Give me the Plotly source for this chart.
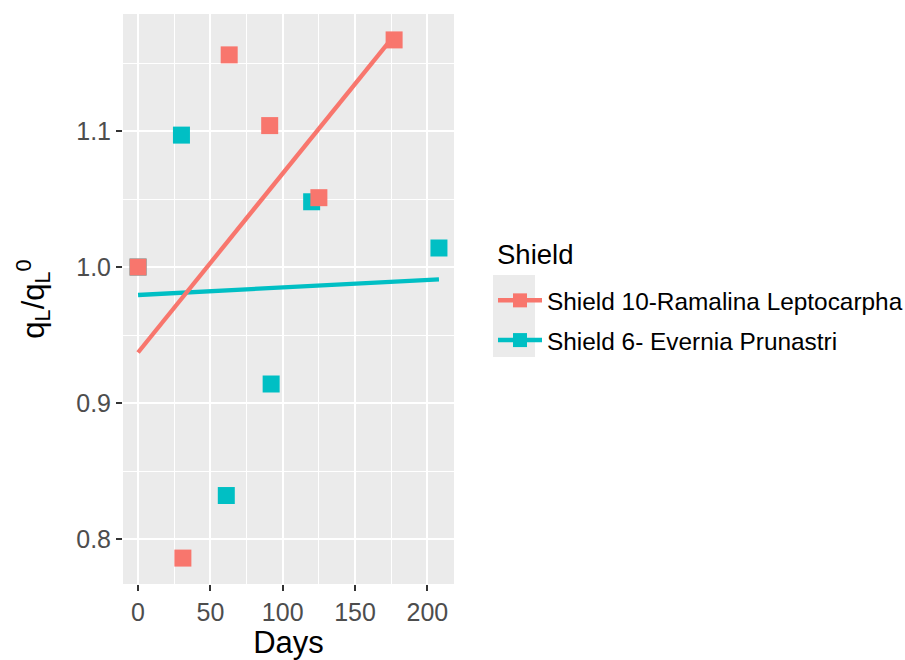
import numpy as np
import plotly.graph_objects as go

# Shield 10 - Ramalina Leptocarpha
red_name = "Shield 10-Ramalina Leptocarpha"
red_days = [0, 31, 63, 91, 125, 177]
red_q = [1.000, 0.786, 1.156, 1.104, 1.051, 1.167]

# Shield 6 - Evernia Prunastri
teal_name = "Shield 6- Evernia Prunastri"
teal_days = [0, 30, 61, 92, 120, 208]
teal_q = [1.000, 1.097, 0.832, 0.914, 1.048, 1.014]

x_ticks = [0, 50, 100, 150, 200]
y_ticks = [0.8, 0.9, 1.0, 1.1]

RED = "#F8766D"
TEAL = "#00BFC4"
FONT = "Liberation Sans, Arial, sans-serif"


def lm_line(x, y):
    """Least-squares straight line over the span of x."""
    slope, intercept = np.polyfit(x, y, 1)
    xs = np.array([min(x), max(x)], dtype=float)
    return xs, intercept + slope * xs


def padded(values, frac=0.05):
    lo, hi = min(values), max(values)
    pad = (hi - lo) * frac
    return [lo - pad, hi + pad]


fig = go.Figure()

# points
for days, q, col in [(teal_days, teal_q, TEAL), (red_days, red_q, RED)]:
    fig.add_trace(go.Scatter(
        x=days, y=q, mode="markers",
        marker=dict(symbol="square", size=17, color=col, line=dict(width=0)),
        showlegend=False, hoverinfo="x+y",
    ))

# linear fits
for days, q, col in [(teal_days, teal_q, TEAL), (red_days, red_q, RED)]:
    lx, ly = lm_line(days, q)
    fig.add_trace(go.Scatter(
        x=lx, y=ly, mode="lines",
        line=dict(color=col, width=4.3),
        showlegend=False, hoverinfo="skip",
    ))

# legend entries (line + square key)
for i, (name, col) in enumerate([(red_name, RED), (teal_name, TEAL)]):
    fig.add_trace(go.Scatter(
        x=[None], y=[None], mode="lines+markers", name=name,
        legendgroup=name, legendrank=i + 1,
        line=dict(color=col, width=4.5),
        marker=dict(symbol="square", size=14, color=col),
    ))

# grey background behind the legend keys
fig.add_shape(type="rect", xref="paper", yref="paper",
              x0=1.1178, x1=1.2447, y0=0.3982, y1=0.5421,
              fillcolor="#EBEBEB", line=dict(width=0), layer="above")

# legend title
fig.add_annotation(text="Shield", xref="paper", yref="paper",
                   x=1.1239, y=0.5772, xanchor="left", yanchor="middle",
                   showarrow=False,
                   font=dict(family=FONT, size=27.5, color="black"))

axis_common = dict(
    showgrid=True, gridcolor="white", gridwidth=2,
    zeroline=False, showline=False, automargin=False,
    ticks="outside", ticklen=6, tickwidth=1.5, tickcolor="#333333",
    tickfont=dict(family=FONT, size=25, color="#4D4D4D"),
)

all_days = red_days + teal_days
all_q = red_q + teal_q

fig.update_layout(
    width=905, height=660,
    margin=dict(l=123, r=451, t=14, b=76),
    paper_bgcolor="white", plot_bgcolor="#EBEBEB",
    font=dict(family=FONT, color="black"),
    xaxis=dict(
        range=padded(all_days), tickvals=x_ticks,
        ticktext=[str(v) for v in x_ticks],
        minor=dict(dtick=25, tick0=0, showgrid=True, gridcolor="white",
                   gridwidth=1, ticks=""),
        title=dict(text="Days", font=dict(family=FONT, size=31, color="black"),
                   standoff=7),
        **axis_common,
    ),
    yaxis=dict(
        range=padded(all_q), tickvals=y_ticks,
        ticktext=[f"{v:.1f}" for v in y_ticks],
        minor=dict(dtick=0.05, tick0=0.75, showgrid=True, gridcolor="white",
                   gridwidth=1, ticks=""),
        title=dict(text="q<sub>L</sub>/q<sub>L</sub><sup>0</sup>",
                   font=dict(family=FONT, size=31, color="black"),
                   standoff=22),
        **axis_common,
    ),
    legend=dict(
        xref="container", yref="container",
        x=493 / 905, xanchor="left", y=1 - 278 / 660, yanchor="top",
        bgcolor="rgba(0,0,0,0)",
        font=dict(family=FONT, size=24.4, color="black"),
        traceorder="grouped", tracegroupgap=5, itemwidth=44,
    ),
)

fig.write_html("out.html")
